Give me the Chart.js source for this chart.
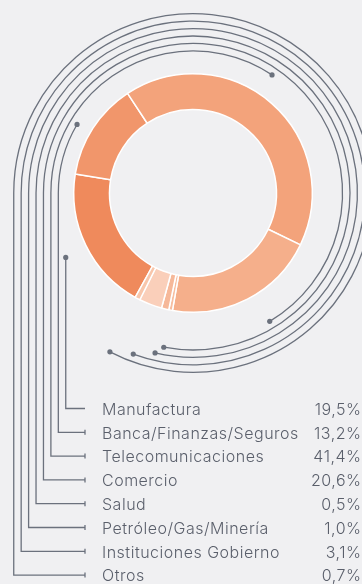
<!DOCTYPE html>
<html lang="es">
<head>
<meta charset="utf-8">
<script src="https://cdn.jsdelivr.net/npm/chart.js@4.4.1/dist/chart.umd.min.js"></script>
<style>
  html, body { margin: 0; padding: 0; background: #f0f0f2; }
  #sectores { display: block; }
</style>
</head>
<body>
<canvas id="sectores" width="362" height="584"></canvas>
<script>
// sectores y participación (%)
const categories = ['Manufactura', 'Banca/Finanzas/Seguros', 'Telecomunicaciones', 'Comercio',
    'Salud', 'Petróleo/Gas/Minería', 'Instituciones Gobierno', 'Otros'];
const shares = [19.5, 13.2, 41.4, 20.6, 0.5, 1.0, 3.1, 0.7];
const shareLabels = ['19,5%', '13,2%', '41,4%', '20,6%', '0,5%', '1,0%', '3,1%', '0,7%'];

const sliceColors = ['#ef8a5c', '#f1966b', '#f3a37b', '#f5af8b', '#f7bea0', '#f6b899', '#facfba', '#f8c6ab'];
const ink = '#6b717d';
const textInk = '#5a5f6b';
const FONT = '300 16px Inter, Roboto, "Liberation Sans", sans-serif';

// leader lines + legend drawn straight onto the chart canvas
const leaders = {
    id: 'leaders',
    afterDraw(chart) {
        const ctx = chart.ctx;
        const arcs = chart.getDatasetMeta(0).data;
        const cx = arcs[0].x, cy = arcs[0].y, R = arcs[0].outerRadius;
        const rowY0 = 408.5, rowGap = 23.8, lineEnd = 85;

        ctx.save();
        ctx.strokeStyle = ink;
        ctx.fillStyle = ink;
        ctx.lineWidth = 1.3;
        arcs.forEach((a, i) => {
            const r = R + 8 + 7.43 * i;
            const y = rowY0 + rowGap * i;
            const x = cx - r;
            let dotX, dotY;
            ctx.beginPath();
            if (i === 0) {
                // first one drops straight down the inside
                dotX = x; dotY = cy + R * 0.54;
                ctx.moveTo(dotX, dotY);
            } else {
                let ang = a.startAngle + (a.endAngle - a.startAngle) * 0.45;
                ang = ((ang % (2 * Math.PI)) + 2 * Math.PI) % (2 * Math.PI);
                dotX = cx + r * Math.cos(ang); dotY = cy + r * Math.sin(ang);
                ctx.arc(cx, cy, r, ang, Math.PI, true);
            }
            ctx.lineTo(x, y);
            ctx.lineTo(lineEnd, y);
            ctx.stroke();
            if (i > 0) {
                ctx.beginPath();
                ctx.moveTo(lineEnd, y - 2.5);
                ctx.lineTo(lineEnd, y + 2.5);
                ctx.stroke();
            }
            ctx.beginPath();
            ctx.arc(dotX, dotY, 2.6, 0, Math.PI * 2);
            ctx.fill();
        });

        ctx.fillStyle = textInk;
        ctx.font = FONT;
        ctx.letterSpacing = '0.5px';
        ctx.textBaseline = 'middle';
        categories.forEach((c, i) => {
            const y = rowY0 + 1.5 + rowGap * i;
            ctx.textAlign = 'left';
            ctx.fillText(c, 102, y);
            ctx.textAlign = 'right';
            ctx.fillText(shareLabels[i], 361.5, y);
        });
        ctx.restore();
    }
};

new Chart(document.getElementById('sectores'), {
    type: 'doughnut',
    data: {
        labels: categories,
        datasets: [{
            data: shares,
            backgroundColor: sliceColors,
            borderColor: '#ffffff',
            borderWidth: 1.5
        }]
    },
    options: {
        responsive: false,
        animation: false,
        rotation: 209,
        cutout: '70%',
        layout: { padding: { left: 73, top: 73, right: 49, bottom: 271 } },
        plugins: { legend: { display: false }, tooltip: { enabled: false } }
    },
    plugins: [leaders]
});
</script>
</body>
</html>
